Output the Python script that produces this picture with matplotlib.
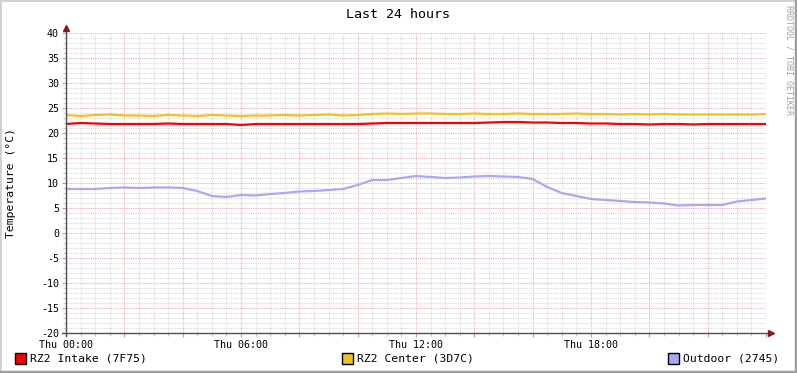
import numpy as np
import matplotlib
matplotlib.use("Agg")
import matplotlib.pyplot as plt
from matplotlib.patches import Rectangle
from matplotlib.ticker import MultipleLocator, FuncFormatter

# hours since Thu 00:00, every 30 min
hours = np.arange(0, 24.01, 0.5)

intake = [21.8, 22.0, 21.9, 21.8, 21.8, 21.8, 21.8, 21.9, 21.8, 21.8,
          21.8, 21.8, 21.6, 21.8, 21.8, 21.8, 21.8, 21.8, 21.8, 21.8,
          21.8, 21.9, 22.0, 22.0, 22.0, 22.0, 22.0, 22.0, 22.0, 22.1,
          22.2, 22.2, 22.1, 22.1, 22.0, 22.0, 21.9, 21.9, 21.8, 21.8,
          21.7, 21.8, 21.8, 21.7, 21.8, 21.8, 21.8, 21.8, 21.8]

center = [23.6, 23.4, 23.6, 23.7, 23.5, 23.5, 23.4, 23.6, 23.5, 23.4,
          23.6, 23.5, 23.4, 23.5, 23.5, 23.6, 23.5, 23.6, 23.7, 23.5,
          23.6, 23.8, 23.9, 23.8, 23.9, 23.9, 23.8, 23.8, 23.9, 23.8,
          23.8, 23.9, 23.8, 23.8, 23.8, 23.9, 23.8, 23.8, 23.7, 23.8,
          23.7, 23.8, 23.7, 23.7, 23.7, 23.7, 23.7, 23.7, 23.8]

outdoor = [8.8, 8.8, 8.8, 9.0, 9.1, 9.0, 9.1, 9.1, 9.0, 8.4,
           7.4, 7.2, 7.6, 7.5, 7.8, 8.0, 8.3, 8.4, 8.6, 8.8,
           9.6, 10.6, 10.6, 11.0, 11.4, 11.2, 11.0, 11.1, 11.3, 11.4,
           11.3, 11.2, 10.8, 9.2, 8.0, 7.4, 6.8, 6.6, 6.4, 6.2,
           6.1, 5.9, 5.5, 5.6, 5.6, 5.6, 6.3, 6.6, 6.9]

series_names = ["RZ2 Intake (7F75)", "RZ2 Center (3D7C)", "Outdoor (2745)"]
series_colors = ["#FF0000", "#EDC31F", "#A8A8F5"]
hour_labels = {0: "Thu 00:00", 6: "Thu 06:00", 12: "Thu 12:00", 18: "Thu 18:00"}

mono = "DejaVu Sans Mono"
W, H = 797, 373
fig = plt.figure(figsize=(W / 100, H / 100), dpi=100)
fig.patch.set_facecolor("white")

ax = fig.add_axes([66 / W, (H - 333) / H, 700 / W, 300 / H])
ax.set_facecolor("white")

for vals, col in zip([intake, center, outdoor], series_colors):
    ax.plot(hours, vals, color=col, lw=1.6, solid_joinstyle="miter", zorder=3)

ax.set_xlim(0, 24)
ax.set_ylim(-20, 40)

ax.xaxis.set_major_locator(MultipleLocator(2))
ax.xaxis.set_minor_locator(MultipleLocator(0.5))
ax.yaxis.set_major_locator(MultipleLocator(5))
ax.yaxis.set_minor_locator(MultipleLocator(1))
ax.xaxis.set_major_formatter(FuncFormatter(lambda v, p: hour_labels.get(int(round(v)), "")))
ax.yaxis.set_major_formatter(FuncFormatter(lambda v, p: "%d" % v))

ax.grid(which="minor", color="#DADADA", lw=0.8, ls=(0, (1, 1)))
ax.grid(which="major", color="#EAB0B0", lw=0.8, ls=(0, (1, 1)))
ax.set_axisbelow(True)

ax.tick_params(which="major", length=3, width=0.8, color="#E09090", direction="out",
               labelsize=7.2, pad=2)
ax.tick_params(which="minor", length=2, width=0.8, color="#C8C8C8", direction="out")
for lab in ax.get_xticklabels() + ax.get_yticklabels():
    lab.set_fontfamily(mono)

for s in ["top", "right", "left", "bottom"]:
    ax.spines[s].set_visible(False)

# axis lines running past the plot area, with arrow heads
ax.plot([-0.006, 1.008], [0, 0], color="#505050", lw=1, transform=ax.transAxes,
        clip_on=False, zorder=4)
ax.plot([0, 0], [-0.01, 1.01], color="#505050", lw=1, transform=ax.transAxes,
        clip_on=False, zorder=4)
ax.plot([0], [1.0 + 5 / 300], marker="^", color="#8B1A1A", ms=5, transform=ax.transAxes,
        clip_on=False, zorder=5)
ax.plot([1.0 + 5 / 700], [0], marker=">", color="#8B1A1A", ms=5, transform=ax.transAxes,
        clip_on=False, zorder=5)

fig.text(398 / W, 1 - 14 / H, "Last 24 hours", ha="center", va="center",
         fontsize=9.6, family=mono)
fig.text(11 / W, 1 - 183 / H, "Temperature (°C)", ha="center", va="center",
         rotation=90, fontsize=8.2, family=mono)
fig.text(789 / W, 1 - 5 / H, "RRDTOOL / TOBI OETIKER", ha="center", va="top",
         rotation=270, fontsize=6, family=mono, color="#A0A0A0")

# legend
leg_x = [15, 342, 668]
for x0, name, col in zip(leg_x, series_names, series_colors):
    fig.patches.append(Rectangle((x0 / W, 1 - 364 / H), 11 / W, 11 / H, facecolor=col,
                                 edgecolor="black", lw=1, transform=fig.transFigure))
    fig.text((x0 + 15) / W, 1 - 358.5 / H, name, ha="left", va="center",
             fontsize=8.2, family=mono)

# shaded border
fig.patches.append(Rectangle((0, 0), 1, 1, fill=False, edgecolor="#CFCFCF", lw=2,
                             transform=fig.transFigure))
fig.lines.append(plt.Line2D([0, 1], [1.5 / H, 1.5 / H], color="#9E9E9E", lw=2.5,
                            transform=fig.transFigure))
fig.lines.append(plt.Line2D([1 - 1.5 / W, 1 - 1.5 / W], [0, 1], color="#9E9E9E", lw=2.5,
                            transform=fig.transFigure))

fig.savefig("out.png", dpi=100)
